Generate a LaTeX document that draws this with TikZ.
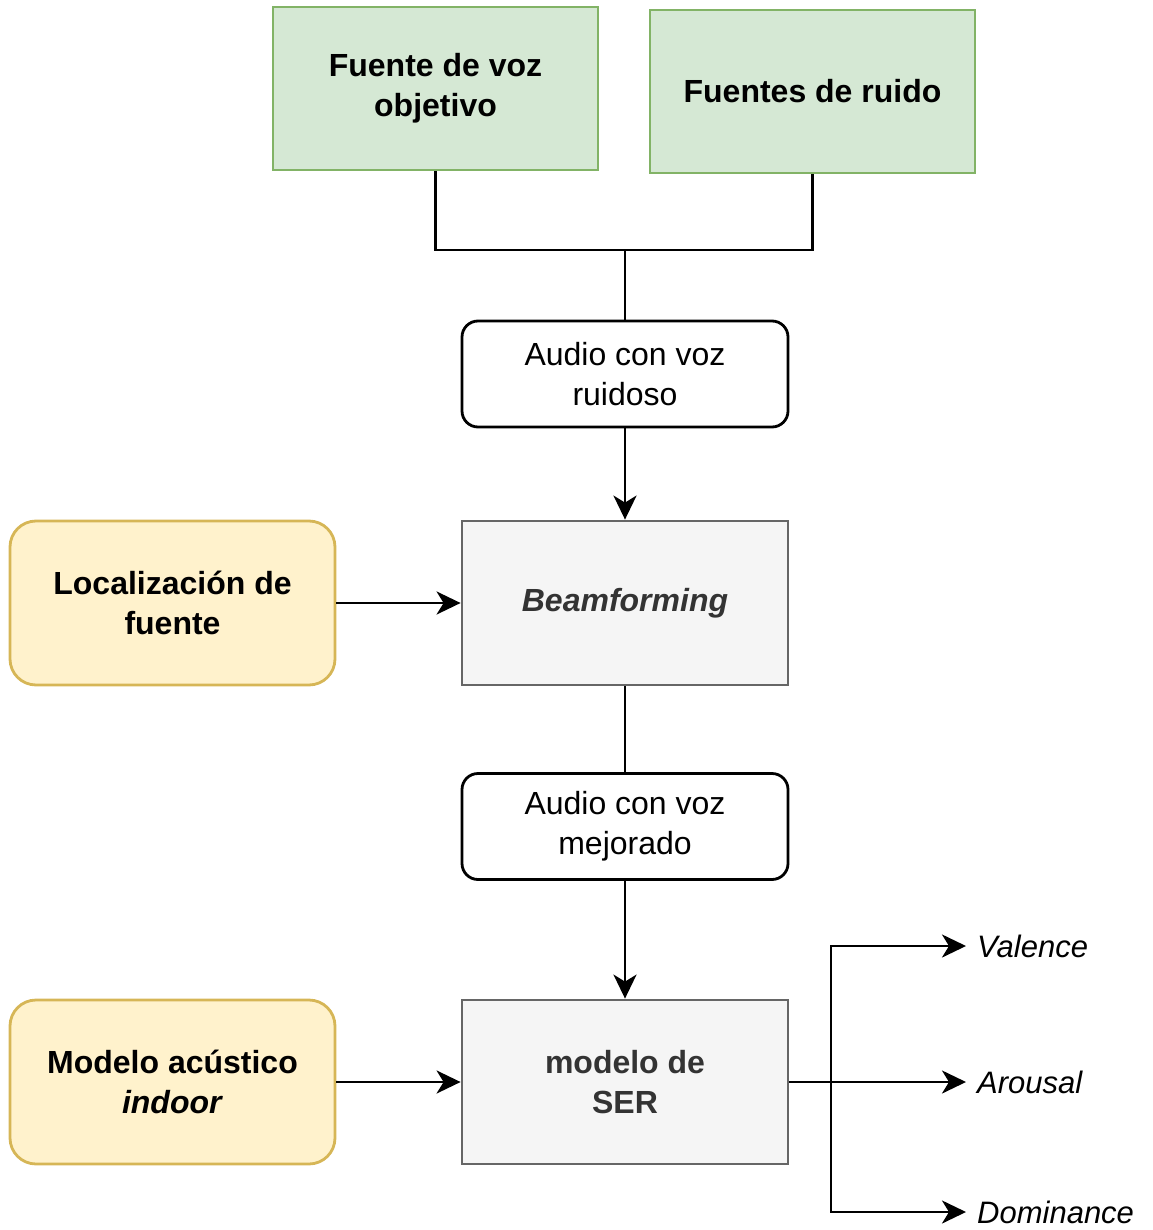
\documentclass[tikz,border=0pt]{standalone}
\usepackage{fontspec}
\setmainfont{Liberation Sans}
\usetikzlibrary{arrows.meta}
\definecolor{gfill}{HTML}{D5E8D4}
\definecolor{gline}{HTML}{82B366}
\definecolor{yfill}{HTML}{FFF2CC}
\definecolor{yline}{HTML}{D6B656}
\definecolor{pfill}{HTML}{F5F5F5}
\definecolor{pline}{HTML}{666666}
\definecolor{ptext}{HTML}{333333}
\tikzset{
  base/.style={line width=2.8pt, align=center, inner sep=0pt,
    font=\fontsize{32}{40}\selectfont},
  source/.style={base, draw=gline, fill=gfill, minimum width=325pt, minimum height=163pt, font=\fontsize{32}{40}\selectfont\bfseries},
  signal/.style={base, draw=black, fill=white, rounded corners=16pt, minimum width=326pt, minimum height=106pt},
  prior/.style={base, draw=yline, fill=yfill, rounded corners=26pt, minimum width=325pt, minimum height=164pt, font=\fontsize{32}{40}\selectfont\bfseries},
  stage/.style={base, draw=pline, fill=pfill, text=ptext, minimum width=326pt, minimum height=164pt, font=\fontsize{32}{40}\selectfont\bfseries},
  outlabel/.style={anchor=west, inner sep=0pt, font=\fontsize{31}{38}\selectfont\itshape},
  wire/.style={line width=2.8pt, draw=black},
  flow/.style={wire, -{Stealth[length=24pt, width=23pt, inset=7pt]}},
}
\begin{document}
\begin{tikzpicture}[x=1pt, y=-1pt]
\useasboundingbox (0,0) rectangle (1152,1230);

% sources
\node[source] (voz) at (435.5,88.5) {Fuente de voz\\objetivo};
\node[source] (ruido) at (812.5,91.5) {Fuentes de ruido};

% processing chain
\node[signal] (ruidoso) at (625,374) {Audio con voz\\ruidoso};
\node[stage] (beam) at (625,603) {\itshape Beamforming};
\node[prior] (loc) at (172.5,603) {Localización de\\fuente};
\node[signal] (mejorado) at (625,826.5) {Audio con voz\\mejorado};
\node[stage] (ser) at (625,1082) {modelo de\\SER};
\node[prior] (modelo) at (172.5,1082) {Modelo acústico\\\textit{indoor}};

% outputs
\node[outlabel] (val) at (977,946) {Valence};
\node[outlabel] (aro) at (977,1082) {Arousal};
\node[outlabel] (dom) at (977,1212) {Dominance};

% mixing of the two sources
\coordinate (mix) at (625,250);
\draw[wire] (voz.south) |- (mix) -| (ruido.south);
\draw[wire] (mix) -- (ruidoso.north);

\draw[flow] (ruidoso.south) -- (beam.north);
\draw[flow] (loc.east) -- (beam.west);
\draw[wire] (beam.south) -- (mejorado.north);
\draw[flow] (mejorado.south) -- (ser.north);
\draw[flow] (modelo.east) -- (ser.west);

% fan-out to the emotional dimensions
\coordinate (split) at (831,1082);
\draw[wire] (ser.east) -- (split);
\draw[flow] (split) |- ([xshift=-11pt]val.west);
\draw[flow] (split) -- ([xshift=-11pt]aro.west);
\draw[flow] (split) |- ([xshift=-11pt]dom.west);
\end{tikzpicture}
\end{document}
